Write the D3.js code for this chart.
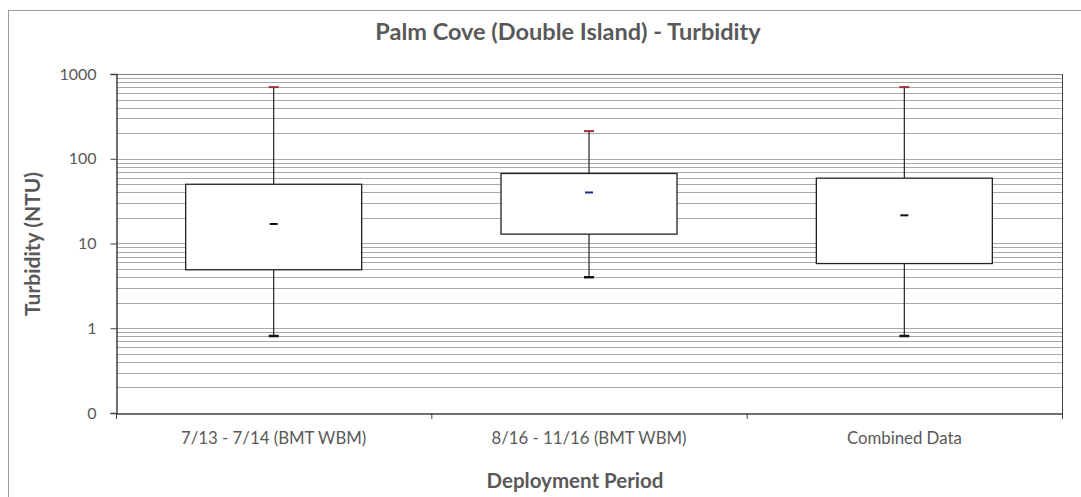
<!DOCTYPE html>
<html>
<head>
<meta charset="utf-8">
<script src="https://cdn.jsdelivr.net/npm/d3@7"></script>
<style>
  body { margin: 0; background: #fff; }
  text { font-family: Lato, "Open Sans", sans-serif; }
</style>
</head>
<body>
<div id="chart"></div>
<script>
// data
const categories = ['7/13 - 7/14 (BMT WBM)', '8/16 - 11/16 (BMT WBM)', 'Combined Data'];
const whiskerLow = [0.81, 4.0, 0.81];
const boxLow = [4.9, 12.9, 5.8];
const median = [17, 40, 21.5];
const boxHigh = [50, 67, 59];
const whiskerHigh = [700, 212, 700];
const yTicks = [0.1, 1, 10, 100, 1000];
const yTickLabels = ['0', '1', '10', '100', '1000'];

const width = 1081, height = 497;
const margin = {t: 74, r: 19, b: 84, l: 116};

const svg = d3.select('#chart').append('svg')
    .attr('width', width)
    .attr('height', height);

// outer chart frame
svg.append('rect')
    .attr('x', 8.5).attr('y', 10.5)
    .attr('width', width + 10).attr('height', height + 10)
    .attr('fill', 'none')
    .attr('stroke', '#9a9a9a');

const x = d3.scaleBand().domain(categories).range([margin.l, width - margin.r]);
const y = d3.scaleLog().domain([0.1, 1000]).range([height - margin.b, margin.t]);

// minor + major log gridlines
const grid = [];
for (let e = -1; e < 3; e++) {
    for (let m = 1; m < 10; m++) grid.push(m * Math.pow(10, e));
}
grid.push(1000);

svg.append('g')
    .selectAll('line')
    .data(grid.filter(v => v > 0.1))
    .join('line')
    .attr('x1', margin.l).attr('x2', width - margin.r)
    .attr('y1', d => Math.round(y(d)) + 0.5)
    .attr('y2', d => Math.round(y(d)) + 0.5)
    .attr('stroke', d => d === 1000 ? '#808080' : '#a8a8a8')
    .attr('stroke-width', 1);

// right edge of plot
svg.append('line')
    .attr('x1', width - margin.r + 0.5).attr('x2', width - margin.r + 0.5)
    .attr('y1', margin.t).attr('y2', height - margin.b + 6)
    .attr('stroke', '#404040');

// boxes
const data = categories.map((c, i) => ({
    c, lo: whiskerLow[i], q1: boxLow[i], med: median[i], q3: boxHigh[i], hi: whiskerHigh[i]
}));
const boxW = 176;
const g = svg.append('g');

g.selectAll('.whisker')
    .data(data)
    .join('line')
    .attr('x1', d => x(d.c) + x.bandwidth() / 2)
    .attr('x2', d => x(d.c) + x.bandwidth() / 2)
    .attr('y1', d => y(d.lo))
    .attr('y2', d => y(d.hi))
    .attr('stroke', '#222')
    .attr('stroke-width', 1.2);

g.selectAll('.box')
    .data(data)
    .join('rect')
    .attr('x', d => x(d.c) + x.bandwidth() / 2 - boxW / 2)
    .attr('y', d => y(d.q3))
    .attr('width', boxW)
    .attr('height', d => y(d.q1) - y(d.q3))
    .attr('fill', '#fff')
    .attr('stroke', '#222')
    .attr('stroke-width', 1.3);

// caps
g.selectAll('.capLo')
    .data(data)
    .join('line')
    .attr('x1', d => x(d.c) + x.bandwidth() / 2 - 5)
    .attr('x2', d => x(d.c) + x.bandwidth() / 2 + 5)
    .attr('y1', d => y(d.lo)).attr('y2', d => y(d.lo))
    .attr('stroke', '#111').attr('stroke-width', 2.5);

g.selectAll('.capHi')
    .data(data)
    .join('line')
    .attr('x1', d => x(d.c) + x.bandwidth() / 2 - 5)
    .attr('x2', d => x(d.c) + x.bandwidth() / 2 + 5)
    .attr('y1', d => y(d.hi)).attr('y2', d => y(d.hi))
    .attr('stroke', '#a0303c').attr('stroke-width', 2);

g.selectAll('.med')
    .data(data)
    .join('line')
    .attr('x1', d => x(d.c) + x.bandwidth() / 2 - 4)
    .attr('x2', d => x(d.c) + x.bandwidth() / 2 + 4)
    .attr('y1', d => y(d.med)).attr('y2', d => y(d.med))
    .attr('stroke', (d, i) => i === 1 ? '#1a2a8a' : '#111').attr('stroke-width', 2);

// y axis
const yAxis = svg.append('g')
    .attr('transform', `translate(${margin.l + 0.5},0)`)
    .call(d3.axisLeft(y).tickValues(yTicks).tickFormat((d, i) => yTickLabels[i]).tickSize(6).tickPadding(14));
yAxis.select('.domain').attr('stroke', '#404040').attr('stroke-width', 1.5);
yAxis.selectAll('.tick line').attr('stroke', '#404040');
yAxis.selectAll('text').attr('fill', '#595959').style('font-size', '16px');

// x axis
const xAxis = svg.append('g')
    .attr('transform', `translate(0,${height - margin.b + 0.5})`)
    .call(d3.axisBottom(x).tickSize(0).tickPadding(19));
xAxis.select('.domain').attr('stroke', '#404040').attr('stroke-width', 1.5);
xAxis.selectAll('text').attr('fill', '#595959').style('font-size', '16.8px');

// category boundary ticks
svg.append('g')
    .selectAll('line')
    .data(categories.concat(['end']))
    .join('line')
    .attr('x1', (d, i) => i < categories.length ? x(d) + 0.5 : width - margin.r + 0.5)
    .attr('x2', (d, i) => i < categories.length ? x(d) + 0.5 : width - margin.r + 0.5)
    .attr('y1', height - margin.b)
    .attr('y2', height - margin.b + 6)
    .attr('stroke', '#404040');

// titles
svg.append('text')
    .attr('x', 568).attr('y', 40)
    .attr('text-anchor', 'middle')
    .attr('fill', '#595959')
    .style('font-size', '23.5px').style('font-weight', 'bold')
    .text('Palm Cove (Double Island) - Turbidity');

svg.append('text')
    .attr('x', 575).attr('y', 488)
    .attr('text-anchor', 'middle')
    .attr('fill', '#595959')
    .style('font-size', '20.5px').style('font-weight', 'bold')
    .text('Deployment Period');

svg.append('text')
    .attr('transform', 'translate(40,244) rotate(-90)')
    .attr('text-anchor', 'middle')
    .attr('fill', '#595959')
    .style('font-size', '21px').style('font-weight', 'bold')
    .text('Turbidity (NTU)');
</script>
</body>
</html>
